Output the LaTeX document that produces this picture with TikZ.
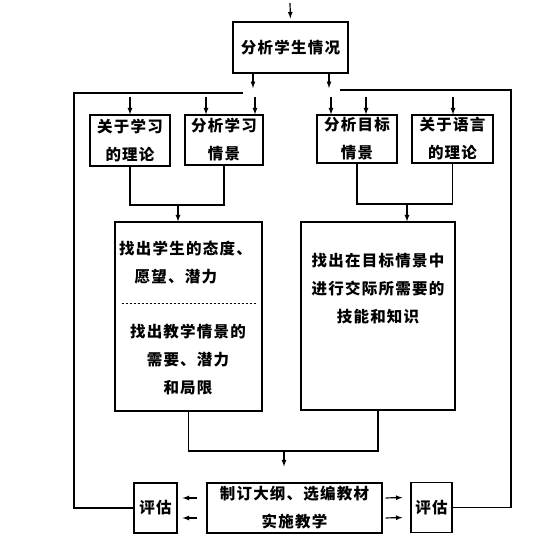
\documentclass[tikz,border=0pt]{standalone}
\usepackage{fontspec}
\newfontfamily\cjk[LetterSpace=8]{Noto Sans CJK SC}
\usetikzlibrary{arrows}

\tikzset{
	box/.style={draw, line width=1.2pt, inner sep=0pt, align=center, font=\cjk\bfseries\fontsize{15.5}{28}\selectfont},
	txt/.style={inner sep=0pt, font=\cjk\bfseries\fontsize{15.5}{28}\selectfont},
	conn/.style={line width=1.2pt},
	arr/.style={line width=1.2pt, -latex},
}

\begin{document}
\begin{tikzpicture}[x=1pt, y=-1pt]
	\useasboundingbox (0,0) rectangle (558,553);
	
	% Top box
	\node[box, minimum width=115pt, minimum height=51pt] (main) at (290.5,47.5) {分析学生情况};
	\coordinate (start) at (290,3);
	\draw[arr, shorten >=3pt] (start) -- (main.north);
	
	% Second row of boxes
	\node[box, minimum width=80pt, minimum height=51pt] (learnth) at (130,140.5) {关于学习\\的理论};
	\node[box, minimum width=78pt, minimum height=50pt] (learnsit) at (224,140) {分析学习\\情景};
	\node[box, minimum width=80pt, minimum height=48pt] (targsit) at (357,139) {分析目标\\情景};
	\node[box, minimum width=81pt, minimum height=48pt] (langth) at (452.5,139) {关于语言\\的理论};
	
	% Big boxes
	\node[box, minimum width=147pt, minimum height=189pt] (findL) at (188.5,316.5) {};
	\node[box, minimum width=154pt, minimum height=188pt] (findR) at (378,316) {};
	\node[txt, anchor=west, align=left] (needs) at (119,262.5) {找出学生的态度、\\\hphantom{找}愿望、潜力};
	\coordinate (split) at (188.5,303);
	\draw[line width=0.8pt, dash pattern=on 2pt off 2pt] ([xshift=-67pt]split) -- ([xshift=68pt]split);
	\node[txt, align=center] (limits) at (188,360) {找出教学情景的\\需要、潜力\\和局限};
	\node[txt, align=center] (skills) at (378,289) {找出在目标情景中\\进行交际所需要的\\技能和知识};
	
	% Bottom row
	\node[box, minimum width=175pt, minimum height=50pt] (plan) at (294.5,508) {制订大纲、选编教材\\实施教学};
	\node[box, minimum width=43pt, minimum height=50pt] (evalL) at (155.5,508) {评估};
	\node[box, minimum width=41pt, minimum height=50pt] (evalR) at (431.5,507.5) {评估};
	
	% Feedback loops
	\coordinate (fbL) at (74,93);
	\coordinate (fbLend) at (243,93);
	\coordinate (fbR) at (511,90);
	\coordinate (fbRend) at (340,90);
	\draw[conn] (evalL.west) -| (fbL) -- (fbLend);
	\draw[conn] (evalR.east) -| (fbR) -- (fbRend);
	
	% Arrows out of the top box
	\foreach \x in {253,329} {
		\draw[arr, shorten >=2pt] (main.south -| \x,0) -- (fbR -| \x,0);
	}
	
	% Arrows into the second row
	\foreach \x/\b in {130/learnth, 206/learnsit, 255/learnsit} {
		\draw[arr, shorten <=4pt] (fbL -| \x,0) -- (\b.north -| \x,0);
	}
	\foreach \x/\b in {331/targsit, 366/targsit, 453/langth} {
		\draw[arr, shorten <=7pt] (fbR -| \x,0) -- (\b.north -| \x,0);
	}
	
	% Brackets down to the big boxes
	\coordinate (brL) at (178,205);
	\draw[conn] (learnth.south) |- (brL) -| (learnsit.south);
	\draw[arr] (brL) -- (brL |- findL.north);
	\coordinate (brR) at (407,204);
	\draw[conn] (targsit.south) |- (brR) -| (langth.south);
	\draw[arr] (brR) -- (brR |- findR.north);
	
	% Bracket down to the syllabus box
	\coordinate (brB) at (284,451);
	\draw[conn] (findL.south) |- (brB) -| (findR.south);
	\draw[arr, shorten >=16pt] (brB) -- (brB |- plan.north);
	
	% Arrows to the evaluation boxes
	\foreach \s in {10,-10} {
		\draw[arr, shorten <=9pt, shorten >=5pt] ([yshift=\s pt]plan.west) -- ([yshift=\s pt]evalL.east);
		\draw[arr, shorten <=3pt, shorten >=8pt] ([yshift=\s pt]plan.east) -- ([yshift=\s pt]evalR.west);
	}
	
\end{tikzpicture}
\end{document}
